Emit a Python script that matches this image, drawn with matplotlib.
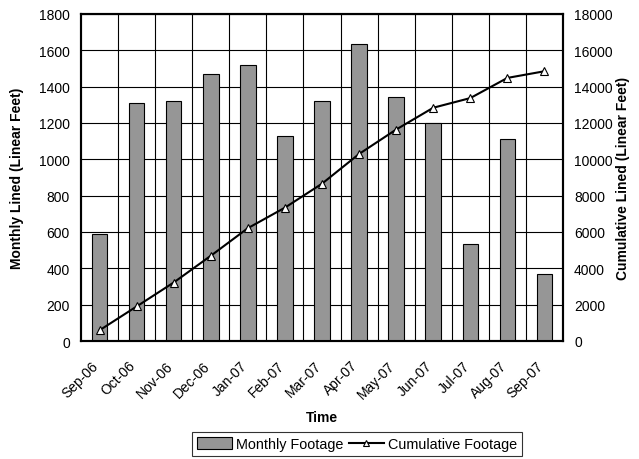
import matplotlib
matplotlib.use('Agg')
import matplotlib.pyplot as plt
import matplotlib.transforms as mtransforms
import numpy as np
from matplotlib.lines import Line2D
from matplotlib.patches import Patch

plt.rcParams['font.family'] = ['Liberation Sans', 'DejaVu Sans']

# --- data ---
months = ['Sep-06', 'Oct-06', 'Nov-06', 'Dec-06', 'Jan-07', 'Feb-07', 'Mar-07',
          'Apr-07', 'May-07', 'Jun-07', 'Jul-07', 'Aug-07', 'Sep-07']
monthly = [590, 1310, 1320, 1470, 1520, 1130, 1320, 1635, 1345, 1200, 532, 1110, 367]
cumulative = [590, 1900, 3220, 4690, 6210, 7340, 8660, 10295, 11640, 12840, 13372, 14482, 14849]

fig = plt.figure(figsize=(6.39, 4.6), dpi=100)
ax = fig.add_axes([81 / 639, 1 - 342 / 460, (563 - 81) / 639, (342 - 15) / 460])
ax2 = ax.twinx()

x = np.arange(len(months))

# bars
ax.bar(x, monthly, width=0.42, color='#969696', edgecolor='black', linewidth=0.8, zorder=3)
ax.set_xlim(-0.5, len(months) - 0.5)
ax.set_ylim(0, 1800)
ax.set_yticks(np.arange(0, 1801, 200))

# grid: horizontal on the left scale, vertical at category boundaries
ax.grid(axis='y', color='black', linewidth=0.8, zorder=0)
for b in np.arange(0.5, len(months) - 0.5, 1):
    ax.axvline(b, color='black', linewidth=0.8, zorder=0)

# cumulative line
ax2.plot(x, cumulative, color='black', linewidth=1.5, marker='^', markersize=5.5,
         markerfacecolor='white', markeredgecolor='black', markeredgewidth=0.8, zorder=4)
ax2.set_ylim(0, 18000)
ax2.set_yticks(np.arange(0, 18001, 2000))

# month labels: rotated, end point a little left of and below the category centre
ax.set_xticks(x)
ax.set_xticklabels([])
shift = mtransforms.ScaledTranslation(-0.08, -0.17, fig.dpi_scale_trans)
for xi, m in zip(x, months):
    ax.text(xi, 0, m, transform=ax.get_xaxis_transform() + shift, rotation=45,
            ha='right', va='top', rotation_mode='anchor', fontsize=10)
ax.tick_params(axis='x', length=0)
ax.tick_params(axis='y', length=0, labelsize=10, pad=8)
ax2.tick_params(axis='y', length=0, labelsize=10, pad=8)

for a in (ax, ax2):
    for s in a.spines.values():
        s.set_linewidth(1.5)
        s.set_color('black')

ax.set_xlabel('Time', fontsize=10, fontweight='bold')
ax.xaxis.set_label_coords(0.5, -(418 - 342) / 327)
ax.set_ylabel('Monthly Lined (Linear Feet)', fontsize=10, fontweight='bold')
ax.yaxis.set_label_coords(-(81 - 17) / 482, 0.5)
ax2.set_ylabel('Cumulative Lined (Linear Feet)', fontsize=10, fontweight='bold')
ax2.yaxis.set_label_coords(1 + (623 - 563) / 482, 0.5)
ax.xaxis.label.set_va('center')
ax.yaxis.label.set_va('center')
ax2.yaxis.label.set_va('center')

handles = [Patch(facecolor='#969696', edgecolor='black', linewidth=0.8),
           Line2D([0], [0], color='black', linewidth=1.5, marker='^', markersize=5,
                  markerfacecolor='white', markeredgecolor='black', markeredgewidth=0.8)]
leg = fig.legend(handles, ['Monthly Footage', 'Cumulative Footage'], loc='center',
                 bbox_to_anchor=(357 / 639, 1 - 445 / 460), ncol=2, fontsize=10.4,
                 frameon=True, fancybox=False, edgecolor='black', handlelength=2.4,
                 handleheight=0.8, handletextpad=0.3, columnspacing=0.4, borderpad=0.35)
leg.get_frame().set_linewidth(0.8)

fig.savefig('out.png', dpi=100)
